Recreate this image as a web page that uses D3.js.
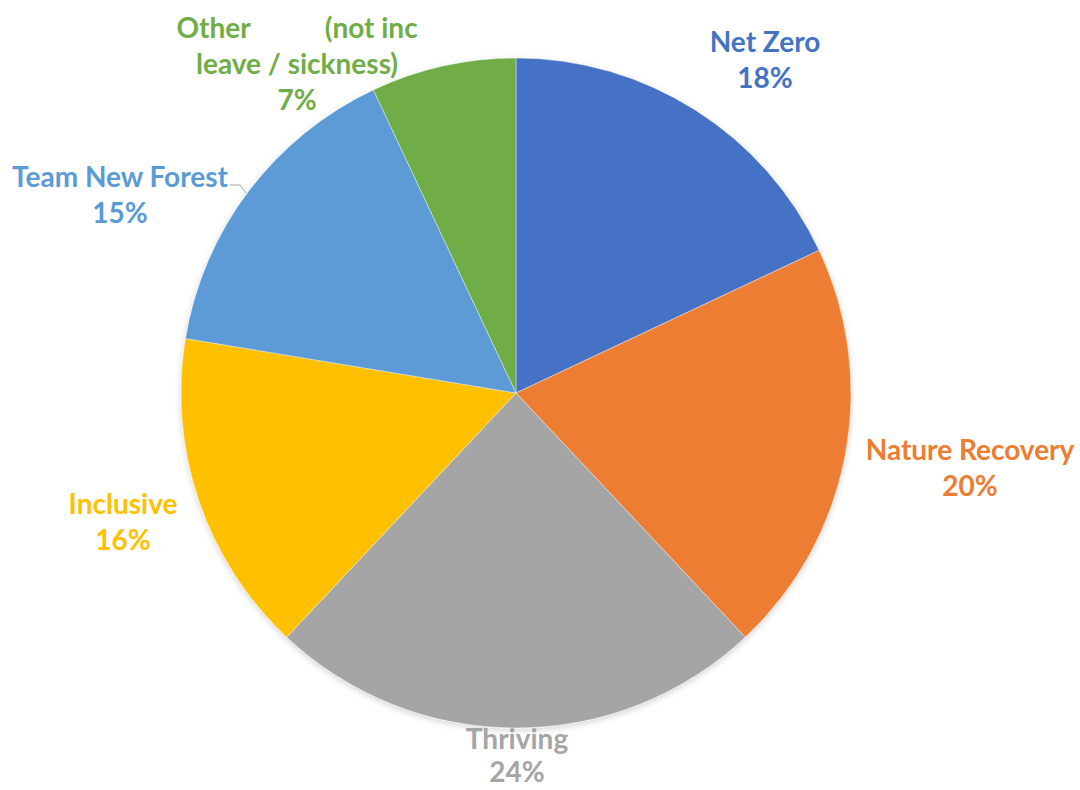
<!DOCTYPE html>
<html><head><meta charset="utf-8">
<script src="https://cdn.jsdelivr.net/npm/d3@7"></script>
<style>body{margin:0;background:#fff}</style>
</head><body>
<svg id="c" width="1080" height="790"></svg>
<script>
const categories = ["Net Zero", "Nature Recovery", "Thriving", "Inclusive", "Team New Forest", "Other           (not inc leave / sickness)"];
const values = [18, 20, 24, 15.6, 15.4, 7];
const pctLabels = ["18%", "20%", "24%", "16%", "15%", "7%"];
const colors = ["#4472C4", "#ED7D31", "#A5A5A5", "#FFC000", "#5B9BD5", "#70AD47"];

const svg = d3.select("#c");
const cx = 516, cy = 393, R = 335;
const pie = d3.pie().sort(null).value(d => d)(values);
const arc = d3.arc().innerRadius(0).outerRadius(R);
const g = svg.append("g").attr("transform", `translate(${cx},${cy})`);
const defs = svg.append("defs");
const f = defs.append("filter").attr("id","sh").attr("x","-10%").attr("y","-10%").attr("width","120%").attr("height","120%");
f.append("feDropShadow").attr("dx",0).attr("dy",2).attr("stdDeviation",3).attr("flood-color","#000").attr("flood-opacity",0.18);
g.append("g").attr("filter","url(#sh)").selectAll("path").data(pie).join("path")
  .attr("d", arc).attr("fill", (d,i) => colors[i]).attr("stroke", "#fff").attr("stroke-width", 0.4);

const labelPos = [
  {x: 765, y: 45, gap: 36, lines: ["Net Zero", pctLabels[0]]},
  {x: 970, y: 453, gap: 36, lines: ["Nature Recovery", pctLabels[1]]},
  {x: 517, y: 742, gap: 33, lines: ["Thriving", pctLabels[2]]},
  {x: 123, y: 507, gap: 36, lines: ["Inclusive", pctLabels[3]]},
  {x: 120, y: 180, gap: 36, lines: ["Team New Forest", pctLabels[4]]},
  {x: 297, y: 31, gap: 36, lines: ["Other           (not inc", "leave / sickness)", pctLabels[5]]}
];
svg.append("path").attr("d", "M230,185 L240,185 L246,193").attr("fill","none").attr("stroke","#A6A6A6").attr("stroke-width",1);

labelPos.forEach((l, i) => {
  const t = svg.append("text").attr("x", l.x).attr("y", l.y)
    .attr("text-anchor", "middle").attr("dominant-baseline", "middle")
    .attr("font-family", "Lato, 'Open Sans', sans-serif").attr("font-weight", "bold")
    .attr("font-size", 28).attr("fill", colors[i]).style("white-space","pre").attr("xml:space","preserve");
  l.lines.forEach((s, k) => {
    t.append("tspan").attr("x", l.x).attr("dy", k === 0 ? 0 : l.gap).text(s);
  });
});
</script>
</body></html>
